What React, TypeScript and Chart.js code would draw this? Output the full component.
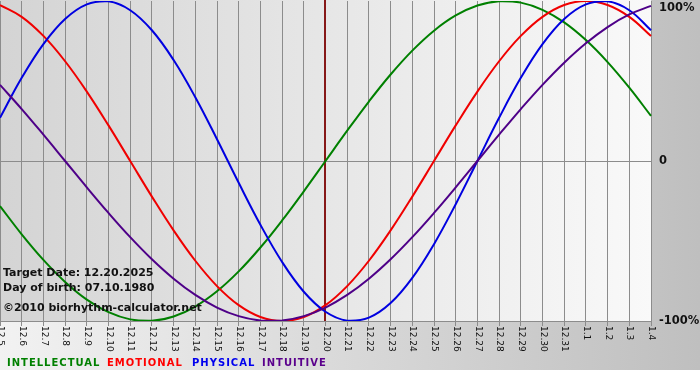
import React, { useEffect, useRef } from 'react';
import { Chart, registerables } from 'chart.js';

Chart.register(...registerables);

const days = [
  '12.5', '12.6', '12.7', '12.8', '12.9', '12.10', '12.11', '12.12', '12.13', '12.14',
  '12.15', '12.16', '12.17', '12.18', '12.19', '12.20', '12.21', '12.22', '12.23', '12.24',
  '12.25', '12.26', '12.27', '12.28', '12.29', '12.30', '12.31', '1.1', '1.2', '1.3', '1.4',
];
const targetDay = '12.20';

const intellectual = [
  -0.2817, -0.4582, -0.6182, -0.7557, -0.866, -0.945, -0.9898, -0.9989, -0.9718, -0.9096,
  -0.8146, -0.6901, -0.5406, -0.3717, -0.1893, 0, 0.1893, 0.3717, 0.5406, 0.6901,
  0.8146, 0.9096, 0.9718, 0.9989, 0.9898, 0.945, 0.866, 0.7557, 0.6182, 0.4582, 0.2817,
];
const emotional = [
  0.9749, 0.901, 0.7818, 0.6235, 0.4339, 0.2225, 0, -0.2225, -0.4339, -0.6235,
  -0.7818, -0.901, -0.9749, -1, -0.9749, -0.901, -0.7818, -0.6235, -0.4339, -0.2225,
  0, 0.2225, 0.4339, 0.6235, 0.7818, 0.901, 0.9749, 1, 0.9749, 0.901, 0.7818,
];
const physical = [
  0.2698, 0.5196, 0.7308, 0.8879, 0.9791, 0.9977, 0.9423, 0.817, 0.6311, 0.3984,
  0.1362, -0.1362, -0.3984, -0.6311, -0.817, -0.9423, -0.9977, -0.9791, -0.8879, -0.7308,
  -0.5196, -0.2698, 0, 0.2698, 0.5196, 0.7308, 0.8879, 0.9791, 0.9977, 0.9423, 0.817,
];
const intuitive = [
  0.4759, 0.3247, 0.1646, 0, -0.1646, -0.3247, -0.4759, -0.6142, -0.7357, -0.8372,
  -0.9158, -0.9694, -0.9966, -0.9966, -0.9694, -0.9158, -0.8372, -0.7357, -0.6142, -0.4759,
  -0.3247, -0.1646, 0, 0.1646, 0.3247, 0.4759, 0.6142, 0.7357, 0.8372, 0.9158, 0.9694,
];

const yTickValues = [-1, 0, 1];
const yTickLabels = ['-100%', '0', '100%'];

const seriesNames = ['INTELLECTUAL', 'EMOTIONAL', 'PHYSICAL', 'INTUITIVE'];
const lineColors = ['#008000', '#f00000', '#0000e0', '#4e0088'];
const legendColors = ['#008000', '#ff0000', '#0000ee', '#5a008c'];
const legendX = [7, 107, 192, 262];

const infoLines = ['Target Date: 12.20.2025', 'Day of birth: 07.10.1980', '\u00a92010 biorhythm-calculator.net'];
const infoBaselines = [276, 291, 311];

const GRID = '#8c8c8c';

const decorPlugin = {
  id: 'decor',
  beforeDraw(chart: any) {
    const { ctx, width, height, chartArea: a } = chart;
    ctx.save();
    let g = ctx.createLinearGradient(0, 0, width, 0);
    g.addColorStop(0, '#f2f2f2');
    g.addColorStop(1, '#bfbfbf');
    ctx.fillStyle = g;
    ctx.fillRect(0, 0, width, height);
    g = ctx.createLinearGradient(a.left, 0, a.right, 0);
    g.addColorStop(0, '#d4d4d4');
    g.addColorStop(1, '#f9f9f9');
    ctx.fillStyle = g;
    ctx.fillRect(a.left, 0, a.right - a.left, a.bottom);
    ctx.restore();
  },
  beforeDatasetsDraw(chart: any) {
    const { ctx, chartArea: a } = chart;
    const xs = chart.scales.x;
    const x = xs.getPixelForValue(days.indexOf(targetDay));
    ctx.save();
    ctx.fillStyle = '#861818';
    ctx.fillRect(Math.round(x) - 2, 0, 2, a.bottom);
    ctx.restore();
  },
  afterDraw(chart: any) {
    const { ctx, chartArea: a } = chart;
    const xs = chart.scales.x;
    ctx.save();
    ctx.font = '9px "DejaVu Sans", Verdana, sans-serif';
    ctx.fillStyle = '#111';
    ctx.textAlign = 'left';
    ctx.textBaseline = 'middle';
    xs.ticks.forEach((t: any, i: number) => {
      const x = xs.getPixelForTick(i);
      ctx.save();
      ctx.translate(x + 0.5, a.bottom + 5);
      ctx.rotate(Math.PI / 2);
      ctx.fillText(xs.getLabelForValue(t.value), 0, 0);
      ctx.restore();
    });
    ctx.font = 'bold 11px "DejaVu Sans", Verdana, sans-serif';
    ctx.fillStyle = '#111';
    ctx.textBaseline = 'alphabetic';
    infoLines.forEach((s, i) => ctx.fillText(s, 3, infoBaselines[i]));
    ctx.font = 'bold 10px "DejaVu Sans", Verdana, sans-serif';
    (ctx as any).letterSpacing = '1px';
    seriesNames.forEach((s, i) => {
      ctx.fillStyle = legendColors[i];
      ctx.fillText(s, legendX[i], 366);
    });
    ctx.restore();
  },
};

export default function App() {
  const ref = useRef<HTMLCanvasElement | null>(null);

  useEffect(() => {
    document.body.style.margin = '0';
    const canvas = ref.current;
    if (!canvas) return;
    const series = [intellectual, emotional, physical, intuitive];
    const chart = new Chart(canvas, {
      type: 'line',
      data: {
        labels: days,
        datasets: series.map((d, i) => ({
          label: seriesNames[i],
          data: d,
          borderColor: lineColors[i],
          backgroundColor: lineColors[i],
          borderWidth: 2,
          pointRadius: 0,
          tension: 0.4,
          fill: false,
          order: 3 - i,
        })),
      },
      options: {
        animation: false,
        responsive: false,
        devicePixelRatio: 1,
        layout: { padding: { top: 1, left: 0, right: 0, bottom: 0 } },
        plugins: { legend: { display: false }, tooltip: { enabled: false } },
        scales: {
          x: {
            type: 'category',
            offset: false,
            grid: { color: GRID, lineWidth: 1, drawTicks: true, tickLength: 5, tickColor: GRID },
            border: { display: true, color: GRID },
            ticks: { display: false, autoSkip: false },
            afterFit: (s: any) => {
              s.height = 49;
              s.paddingLeft = 0;
              s.paddingRight = 0;
            },
          },
          y: {
            type: 'linear',
            position: 'right',
            min: -1,
            max: 1,
            afterBuildTicks: (s: any) => {
              s.ticks = yTickValues.map((v) => ({ value: v }));
            },
            grid: {
              drawTicks: false,
              color: (c: any) => (c.tick && c.tick.value === 1 ? 'rgba(0,0,0,0)' : GRID),
            },
            border: { display: true, color: GRID },
            ticks: {
              padding: 8,
              color: '#111',
              font: { family: '"DejaVu Sans", Verdana, sans-serif', size: 11.5, weight: 'bold' },
              callback: (v: any) => {
                const lbl = yTickLabels[yTickValues.indexOf(Number(v))];
                return Number(v) === 1 ? ['', lbl] : lbl;
              },
            },
            afterFit: (s: any) => {
              s.width = 49;
              s.paddingTop = 0;
              s.paddingBottom = 0;
            },
          },
        },
      } as any,
      plugins: [decorPlugin],
    });
    return () => chart.destroy();
  }, []);

  return (
    <div style={{ position: 'absolute', left: 0, top: 0, width: 700, height: 380, background: '#fff' }}>
      <canvas ref={ref} width={700} height={370} style={{ display: 'block' }} />
    </div>
  );
}
